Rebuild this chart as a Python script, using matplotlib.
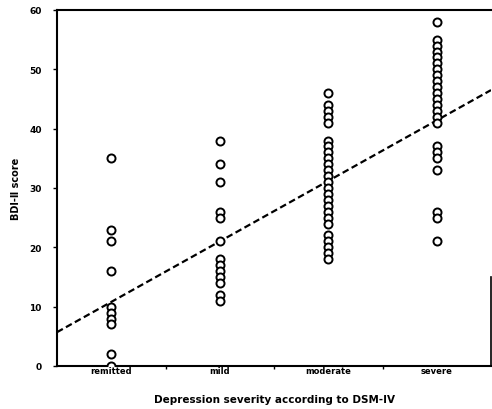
import numpy as np
import matplotlib
matplotlib.use("Agg")
import matplotlib.pyplot as plt

# Categories and BDI-II scores
categories = ["remitted", "mild", "moderate", "severe"]
remitted = [35, 23, 21, 16, 10, 9, 8, 7, 2, 0]
mild = [38, 34, 31, 26, 25, 21, 18, 17, 16, 15, 14, 12, 11]
moderate = [46, 44, 43, 42, 41, 38, 37, 36, 35, 34, 33, 32, 31, 30, 29,
            28, 27, 26, 25, 24, 22, 21, 20, 19, 18]
severe = [58, 55, 54, 53, 52, 51, 50, 49, 48, 47, 46, 45, 44, 43, 42, 41,
          37, 36, 35, 33, 26, 25, 21]
groups = [remitted, mild, moderate, severe]

# fitted line (score = intercept + slope * category index)
fit_intercept = 0.6
fit_slope = 10.2

plt.rcParams['font.family'] = 'DejaVu Sans'
fig = plt.figure(figsize=(4.92, 4.10), dpi=100)
ax = fig.add_axes([57/492, 43/410, 434/492, 356/410])

for i, g in enumerate(groups):
    x = np.full(len(g), i + 1)
    ax.plot(x, g, 'o', mfc='white', mec='black', ms=5.8, mew=1.4,
            linestyle='none', zorder=3)

xs = np.array([0.5, 4.5])
ax.plot(xs, fit_intercept + fit_slope * xs, color='black', lw=1.6,
        linestyle=(0, (3, 1.6)), zorder=2)

ax.set_xlim(0.5, 4.5)
ax.set_ylim(0, 60)
ax.set_yticks(range(0, 61, 10))
ax.set_yticklabels([str(v) for v in range(0, 61, 10)], fontsize=6.5,
                   fontweight='bold')
ax.set_xticks([1, 2, 3, 4])
ax.set_xticklabels(categories, fontsize=6, fontweight='bold')
ax.tick_params(axis='x', length=0, pad=0)
ax.tick_params(axis='y', length=3, width=1, pad=8)
ax.set_xticks([1.5, 2.5, 3.5], minor=True)
ax.tick_params(axis='x', which='minor', length=2, width=1, direction='out')

for s in ['left', 'bottom', 'top']:
    ax.spines[s].set_linewidth(1.5)
ax.spines['right'].set_linewidth(1.2)
ax.spines['right'].set_bounds(0, 15)

ax.set_ylabel("BDI-Ⅱ score", fontsize=7, fontweight='bold', labelpad=6)
ax.set_xlabel("Depression severity according to DSM-IV", fontsize=7.5,
              fontweight='bold', labelpad=14)

fig.savefig("out.png", dpi=100)
